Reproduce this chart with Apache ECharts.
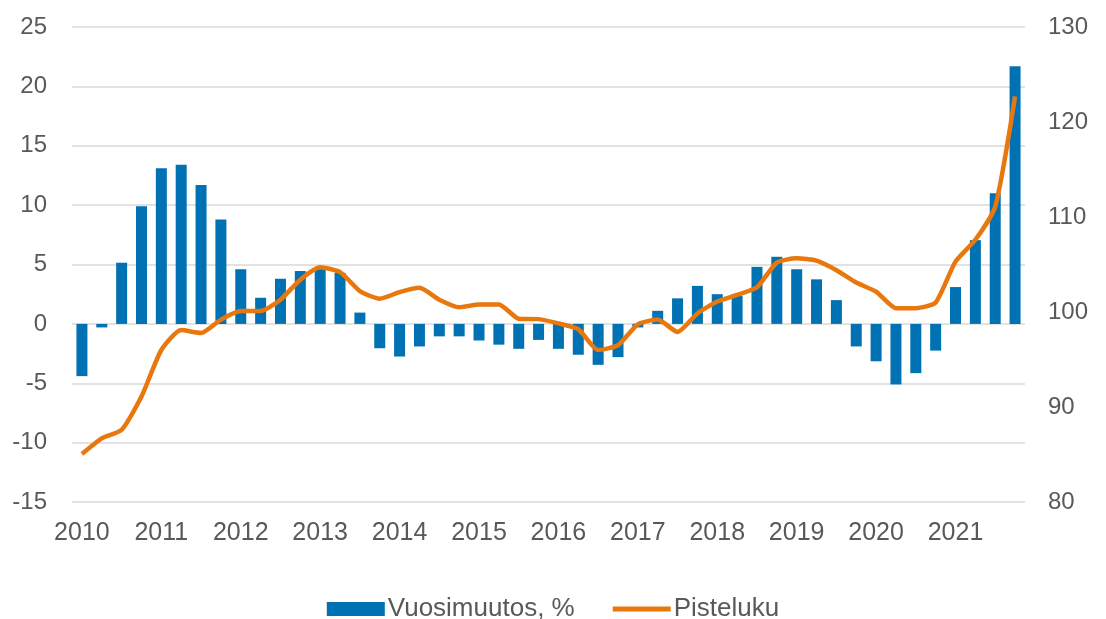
<!DOCTYPE html>
<html>
<head>
<meta charset="utf-8">
<script src="https://cdn.jsdelivr.net/npm/echarts@6/dist/echarts.min.js"></script>
<style>
	html, body { margin: 0; padding: 0; background: #fff; }
	#chart { width: 1106px; height: 619px; }
</style>
</head>
<body>
<div id="chart"></div>
<script>
// vuodet ja neljännekset
const years = ['2010', '2011', '2012', '2013', '2014', '2015', '2016', '2017', '2018', '2019', '2020', '2021'];
const quarters = ['Q1', 'Q2', 'Q3', 'Q4'];
// vuosimuutos, % (vasen akseli)
const change = [
	-4.4, -0.3, 5.15, 9.9,
	13.1, 13.4, 11.7, 8.8,
	4.6, 2.2, 3.8, 4.45,
	4.7, 4.3, 0.95, -2.05,
	-2.75, -1.9, -1.05, -1.05,
	-1.4, -1.75, -2.1, -1.35,
	-2.1, -2.6, -3.45, -2.8,
	-0.3, 1.1, 2.15, 3.2,
	2.5, 2.35, 4.8, 5.65,
	4.6, 3.75, 2.0, -1.9,
	-3.15, -5.1, -4.15, -2.25,
	3.1, 7.05, 11.0, 21.7
];
// pisteluku (oikea akseli)
const index = [
	85.05, 86.7, 87.6, 91.1,
	96.0, 98.1, 97.8, 99.2,
	100.1, 100.1, 101.3, 103.4,
	104.7, 104.2, 102.2, 101.4,
	102.1, 102.55, 101.3, 100.5,
	100.8, 100.8, 99.3, 99.25,
	98.8, 98.2, 96.0, 96.5,
	98.7, 99.2, 97.9, 99.85,
	101.1, 101.8, 102.6, 105.2,
	105.65, 105.4, 104.4, 103.1,
	102.15, 100.4, 100.4, 101.0,
	105.3, 107.6, 111.1, 122.7
];

const categories = [];
years.forEach(y => quarters.forEach(q => categories.push(y + q)));

const textColor = '#595959';
const font = 'Liberation Sans, Arial, sans-serif';
const orange = '#e8770e';

const option = {
	animation: false,
	grid: {
		left: 72,
		right: 81,
		top: 27,
		bottom: 117,
	},
	legend: {
		top: 591,
		left: 'center',
		itemWidth: 58,
		itemHeight: 14,
		itemGap: 38,
		textStyle: {
			color: textColor,
			fontSize: 26,
			fontFamily: font,
			padding: [0, 0, 0, -2],
		},
		data: [
			{ name: 'Vuosimuutos, %', icon: 'rect' },
			// pelkkä paksu viiva ilman pistettä
			{ name: 'Pisteluku', icon: 'path://M0,0H60V5H0Z', itemStyle: { color: orange } },
		],
	},
	xAxis: {
		type: 'category',
		data: categories,
		axisLine: { show: false },
		axisTick: { show: false },
		axisLabel: {
			interval: 3,
			margin: 19,
			color: textColor,
			fontSize: 25,
			fontFamily: font,
			formatter: v => v.slice(0, 4),
		},
	},
	yAxis: [
		{
			type: 'value',
			min: -15,
			max: 25,
			interval: 5,
			axisLine: { show: false },
			axisTick: { show: false },
			axisLabel: {
				margin: 25,
				color: textColor,
				fontSize: 24,
				fontFamily: font,
			},
			splitLine: {
				lineStyle: { color: '#d9d9d9', width: 1.5 },
			},
		},
		{
			type: 'value',
			min: 80,
			max: 130,
			interval: 10,
			position: 'right',
			axisLine: { show: false },
			axisTick: { show: false },
			axisLabel: {
				margin: 23,
				color: textColor,
				fontSize: 24,
				fontFamily: font,
			},
			splitLine: { show: false },
		},
	],
	series: [
		{
			name: 'Vuosimuutos, %',
			type: 'bar',
			yAxisIndex: 0,
			barWidth: 11,
			itemStyle: { color: '#0071b3' },
			data: change,
		},
		{
			name: 'Pisteluku',
			type: 'line',
			yAxisIndex: 1,
			smooth: 0.2,
			symbol: 'none',
			lineStyle: { color: orange, width: 4.5 },
			itemStyle: { color: orange },
			z: 3,
			data: index,
		},
	],
};

const myEcharts = echarts.init(document.getElementById('chart'));
myEcharts.setOption(option);
</script>
</body>
</html>
